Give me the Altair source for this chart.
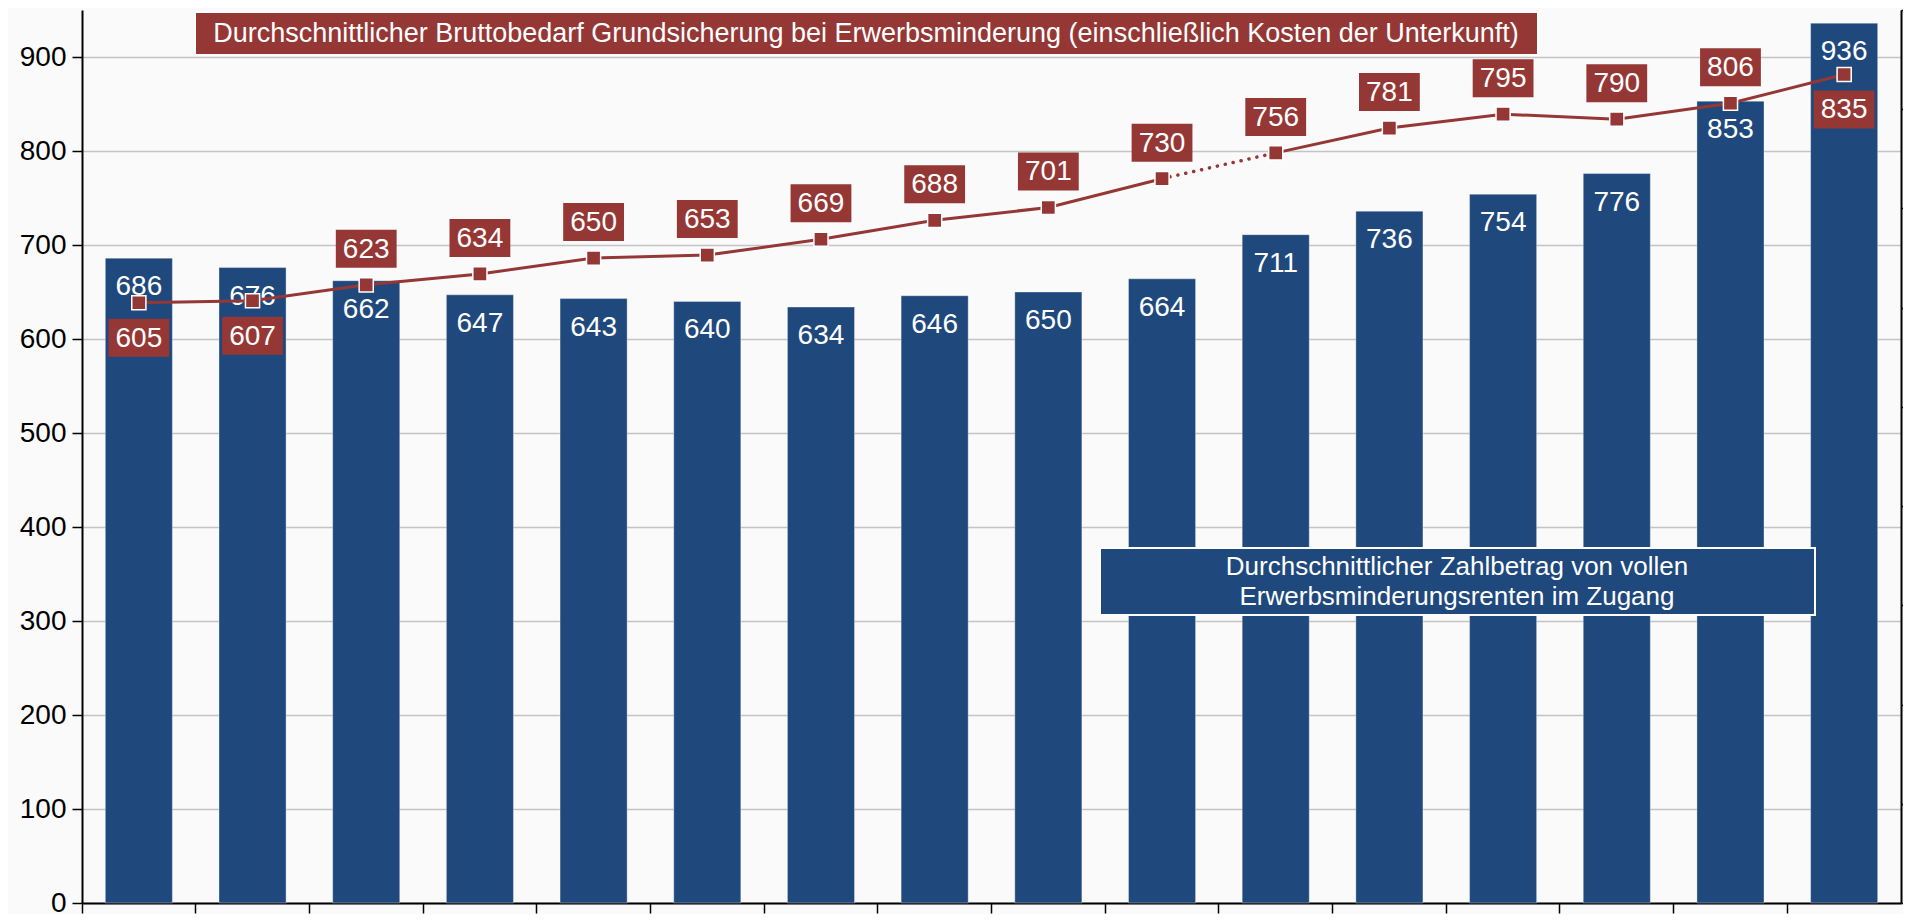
import altair as alt
import pandas as pd

# ---- data ----
categories = [str(i) for i in range(1, 17)]
zahlbetrag = [686, 676, 662, 647, 643, 640, 634, 646, 650, 664, 711, 736, 754, 776, 853, 936]
bruttobedarf = [605, 607, 623, 634, 650, 653, 669, 688, 701, 730, 756, 781, 795, 790, 806, 835]
title_red = "Durchschnittlicher Bruttobedarf Grundsicherung bei Erwerbsminderung (einschließlich Kosten der Unterkunft)"
title_blue = ["Durchschnittlicher Zahlbetrag von vollen", "Erwerbsminderungsrenten im Zugang"]
left_ticks = [0, 100, 200, 300, 400, 500, 600, 700, 800, 900]
right_ticks = [0, 100, 200, 300, 400, 500, 600, 700, 800, 900]

BLUE = "#1F497D"
RED = "#953735"
FONT = "Liberation Sans"
BOX_PATH = "M-1.6,-1H1.6V1H-1.6Z"

bars_df = pd.DataFrame({"cat": categories, "v": zahlbetrag})
line_df = pd.DataFrame({"cat": categories, "v": bruttobedarf})
line_df["seg"] = ["a" if i <= 9 else "b" for i in range(len(categories))]
line_df["pos"] = ["below" if i in (0, 1, 15) else "above" for i in range(len(categories))]
dotted_df = line_df.iloc[9:11].copy()
ann_df = pd.DataFrame({"k": [0]})

x_main = alt.X(
    "cat:N", sort=categories,
    scale=alt.Scale(paddingInner=0, paddingOuter=0),
    axis=alt.Axis(title=None, labels=False, ticks=True, tickSize=10, tickColor="black",
                  tickWidth=1.5, bandPosition=0, domainColor="black", domainWidth=2, grid=False),
)
x_plain = alt.X("cat:N", sort=categories)

y_left = alt.Y(
    "v:Q", scale=alt.Scale(domain=[0, 950], nice=False, zero=True),
    axis=alt.Axis(title=None, orient="left", values=left_ticks, labelFont=FONT, labelFontSize=28,
                  labelColor="black", labelPadding=6, tickSize=10, tickColor="black", tickWidth=1.5,
                  domainColor="black", domainWidth=2, grid=True, gridColor="#c4c4c4", gridWidth=1.5),
)
y_right = alt.Y(
    "v:Q", scale=alt.Scale(domain=[0, 900], nice=False, zero=True),
    axis=alt.Axis(title=None, orient="right", values=right_ticks, labels=False, tickSize=10,
                  tickColor="black", tickWidth=1.5, domainColor="black", domainWidth=2, grid=False),
)

bars = alt.Chart(bars_df).mark_bar(
    width=alt.RelativeBandSize(0.59), color=BLUE, stroke="#ffffff", strokeOpacity=0.35, strokeWidth=1
).encode(x=x_main, y=y_left)
bar_text = alt.Chart(bars_df).mark_text(
    color="white", font=FONT, fontSize=28, dy=29, baseline="middle", align="center"
).encode(x=x_plain, y=alt.Y("v:Q"), text="v:Q")
left_layer = alt.layer(bars, bar_text)

line_solid = alt.Chart(line_df).mark_line(color=RED, strokeWidth=3).encode(
    x=x_plain, y=y_right, detail="seg:N")
line_dotted = alt.Chart(dotted_df).mark_line(
    color=RED, strokeWidth=3.5, strokeDash=[0.1, 8], strokeCap="round").encode(x=x_plain, y=alt.Y("v:Q"))
markers = alt.Chart(line_df).mark_point(
    shape="square", size=200, filled=True, fill=RED, stroke="white", strokeWidth=1.5, opacity=1
).encode(x=x_plain, y=alt.Y("v:Q"))

box_above = alt.Chart(line_df).transform_filter("datum.pos == 'above'").mark_point(
    shape=BOX_PATH, size=1444, filled=True, fill=RED, strokeWidth=0, opacity=1, yOffset=-36
).encode(x=x_plain, y=alt.Y("v:Q"))
box_below = alt.Chart(line_df).transform_filter("datum.pos == 'below'").mark_point(
    shape=BOX_PATH, size=1444, filled=True, fill=RED, strokeWidth=0, opacity=1, yOffset=35
).encode(x=x_plain, y=alt.Y("v:Q"))
txt_above = alt.Chart(line_df).transform_filter("datum.pos == 'above'").mark_text(
    color="white", font=FONT, fontSize=28, dy=-35, baseline="middle", align="center"
).encode(x=x_plain, y=alt.Y("v:Q"), text="v:Q")
txt_below = alt.Chart(line_df).transform_filter("datum.pos == 'below'").mark_text(
    color="white", font=FONT, fontSize=28, dy=36, baseline="middle", align="center"
).encode(x=x_plain, y=alt.Y("v:Q"), text="v:Q")

right_layer = alt.layer(line_solid, line_dotted, markers, box_above, box_below, txt_above, txt_below)

red_box = alt.Chart(ann_df).mark_rect(color=RED, stroke="white", strokeWidth=2).encode(
    x=alt.value(113), x2=alt.value(1456), y=alt.value(2), y2=alt.value(45))
red_txt = alt.Chart(ann_df).mark_text(
    text=title_red, color="white", font=FONT, fontSize=27, align="center", baseline="middle"
).encode(x=alt.value(784), y=alt.value(24))
blue_box = alt.Chart(ann_df).mark_rect(color=BLUE, stroke="white", strokeWidth=2).encode(
    x=alt.value(1018), x2=alt.value(1733), y=alt.value(538), y2=alt.value(605))
blue_txt = alt.Chart(ann_df).mark_text(
    text=title_blue, color="white", font=FONT, fontSize=26, align="center", baseline="middle",
    lineHeight=30
).encode(x=alt.value(1375), y=alt.value(557))

chart = alt.layer(left_layer, right_layer, red_box, red_txt, blue_box, blue_txt).resolve_scale(
    y="independent"
).properties(
    width=1819, height=893,
    padding={"left": 74, "top": 2, "right": 2, "bottom": 11},
    autosize=alt.AutoSizeParams(type="none"),
    background="#fafafa",
).configure_view(stroke=None)

chart.save("out.html", embed_options={"renderer": "svg", "actions": False})
